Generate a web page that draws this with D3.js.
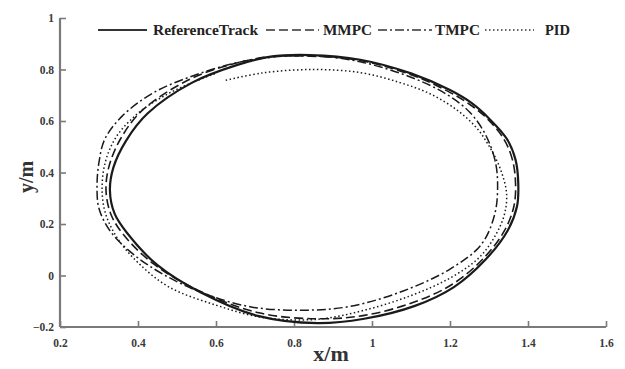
<!DOCTYPE html>
<html>
<head>
<meta charset="utf-8">
<script src="https://cdn.jsdelivr.net/npm/d3@7/dist/d3.min.js"></script>
<style>
  body { margin: 0; background: #fff; }
  svg text { font-family: "Liberation Serif", "DejaVu Serif", serif; }
</style>
</head>
<body>
<div id="chart"></div>
<script>
// ==================== DATA (x/m, y/m) ====================
const xTicks = [0.2, 0.4, 0.6, 0.8, 1, 1.2, 1.4, 1.6];
const yTicks = [-0.2, 0, 0.2, 0.4, 0.6, 0.8, 1];

const referenceTrack = [
  [1.375, 0.36], [1.368, 0.45], [1.346, 0.53], [1.30, 0.61], [1.255, 0.67],
  [1.20, 0.72], [1.10, 0.785], [0.97, 0.838], [0.84, 0.856], [0.74, 0.85],
  [0.655, 0.818], [0.54, 0.75], [0.425, 0.63], [0.37, 0.525], [0.337, 0.42],
  [0.328, 0.33], [0.34, 0.24], [0.372, 0.165], [0.45, 0.04], [0.56, -0.065],
  [0.71, -0.158], [0.86, -0.185], [0.98, -0.168], [1.11, -0.118], [1.21, -0.045],
  [1.29, 0.06], [1.348, 0.175], [1.372, 0.27]
];

const mmpc = [
  [1.368, 0.36], [1.36, 0.45], [1.338, 0.53], [1.295, 0.61], [1.25, 0.665],
  [1.195, 0.715], [1.10, 0.78], [0.97, 0.835], [0.84, 0.852], [0.73, 0.848],
  [0.645, 0.822], [0.53, 0.76], [0.41, 0.64], [0.355, 0.53], [0.325, 0.42],
  [0.318, 0.33], [0.33, 0.24], [0.362, 0.16], [0.44, 0.045], [0.555, -0.058],
  [0.71, -0.145], [0.86, -0.168], [0.98, -0.155], [1.105, -0.105], [1.205, -0.035],
  [1.285, 0.065], [1.34, 0.175], [1.364, 0.27]
];

const tmpc = [
  [1.322, 0.36], [1.315, 0.45], [1.29, 0.55], [1.25, 0.635], [1.19, 0.705],
  [1.10, 0.77], [0.97, 0.83], [0.86, 0.852], [0.76, 0.85], [0.65, 0.825],
  [0.54, 0.775], [0.44, 0.71], [0.36, 0.62], [0.315, 0.53], [0.30, 0.44],
  [0.295, 0.35], [0.30, 0.26], [0.33, 0.17], [0.39, 0.08], [0.47, 0.0],
  [0.57, -0.07], [0.69, -0.122], [0.82, -0.135], [0.944, -0.12], [1.08, -0.06],
  [1.2, 0.025], [1.28, 0.12], [1.315, 0.24]
];

const pid = [
  [0.625, 0.758], [0.72, 0.787], [0.85, 0.80], [0.97, 0.788], [1.07, 0.75],
  [1.15, 0.705], [1.22, 0.64], [1.27, 0.57], [1.305, 0.49], [1.33, 0.41],
  [1.345, 0.32], [1.34, 0.24], [1.318, 0.16], [1.275, 0.07], [1.20, -0.01],
  [1.10, -0.078], [0.98, -0.135], [0.86, -0.17], [0.72, -0.163], [0.60, -0.115],
  [0.48, -0.045], [0.40, 0.05], [0.345, 0.15], [0.315, 0.25], [0.308, 0.35],
  [0.318, 0.45], [0.345, 0.54], [0.40, 0.63], [0.47, 0.70], [0.54, 0.75],
  [0.60, 0.785]
];

const seriesNames = ["ReferenceTrack", "MMPC", "TMPC", "PID"];

// ==================== STYLE ====================
const styles = {
  ReferenceTrack: { width: 2.2, dash: null, closed: true },
  MMPC: { width: 1.6, dash: "9,4", closed: true },
  TMPC: { width: 1.5, dash: "9,3,2,3", closed: true },
  PID: { width: 1.5, dash: "1.5,2.5", closed: false },
};

// ==================== SVG ====================
const width = 625, height = 369;
const svg = d3.select("#chart").append("svg")
  .attr("width", width).attr("height", height);

const x = d3.scaleLinear().domain([0.2, 1.6]).range([60, 606]);
const y = d3.scaleLinear().domain([-0.2, 1]).range([327, 18]);

const axisColor = "#7a7a7a";

// X axis (ticks inward)
const gx = svg.append("g")
  .attr("transform", `translate(0,${y(-0.2)})`)
  .call(d3.axisBottom(x).tickValues(xTicks).tickSize(-6).tickPadding(12)
    .tickFormat(d3.format("")));
// Y axis (ticks inward)
const gy = svg.append("g")
  .attr("transform", `translate(${x(0.2)},0)`)
  .call(d3.axisLeft(y).tickValues(yTicks).tickSize(-6).tickPadding(6)
    .tickFormat(d3.format("")));

[gx, gy].forEach((g) => {
  g.select(".domain").attr("stroke", axisColor).attr("stroke-width", 2.2);
  g.selectAll(".tick line").attr("stroke", axisColor).attr("stroke-width", 1.6);
  g.selectAll(".tick text")
    .attr("fill", "#3a3a3a")
    .style("font-size", "11.5px")
    .style("font-weight", "bold")
    .style("font-family", "'Liberation Serif', serif");
});
gx.select(".domain").attr("d", `M${x(0.2)},0H${x(1.6)}`);
gy.select(".domain").attr("d", `M0,${y(-0.2)}V${y(1)}`);

// Axis titles
svg.append("text")
  .attr("x", 331).attr("y", 361)
  .attr("text-anchor", "middle")
  .attr("fill", "#333")
  .style("font-size", "22px")
  .style("font-weight", "bold")
  .text("x/m");

svg.append("text")
  .attr("transform", `translate(33,177) rotate(-90)`)
  .attr("text-anchor", "middle")
  .attr("fill", "#333")
  .style("font-size", "20px")
  .style("font-weight", "bold")
  .text("y/m");

// ==================== CURVES ====================
const data = {
  ReferenceTrack: referenceTrack,
  MMPC: mmpc,
  TMPC: tmpc,
  PID: pid,
};

seriesNames.forEach((name) => {
  const s = styles[name];
  const line = d3.line()
    .x((d) => x(d[0]))
    .y((d) => y(d[1]))
    .curve(s.closed ? d3.curveCatmullRomClosed : d3.curveCatmullRom);
  svg.append("path")
    .datum(data[name])
    .attr("fill", "none")
    .attr("stroke", "#1a1a1a")
    .attr("stroke-width", s.width)
    .attr("stroke-dasharray", s.dash)
    .attr("d", line);
});

// ==================== LEGEND ====================
const legendItems = [
  { name: "ReferenceTrack", x0: 98, x1: 147, tx: 153, tw: 105 },
  { name: "MMPC", x0: 266, x1: 319, tx: 323, tw: 49 },
  { name: "TMPC", x0: 378, x1: 432, tx: 435, tw: 45 },
  { name: "PID", x0: 485, x1: 534, tx: 545, tw: null },
];
const ly = 30;
legendItems.forEach((it) => {
  const s = styles[it.name];
  svg.append("line")
    .attr("x1", it.x0).attr("x2", it.x1)
    .attr("y1", ly).attr("y2", ly)
    .attr("stroke", "#333")
    .attr("stroke-width", s.width)
    .attr("stroke-dasharray", s.dash);
  const t = svg.append("text")
    .attr("x", it.tx).attr("y", ly + 5)
    .attr("fill", "#222")
    .style("font-size", "14.5px")
    .style("font-weight", "bold")
    .text(it.name);
  if (it.tw) {
    t.attr("textLength", it.tw).attr("lengthAdjust", "spacingAndGlyphs");
  }
});
</script>
</body>
</html>
